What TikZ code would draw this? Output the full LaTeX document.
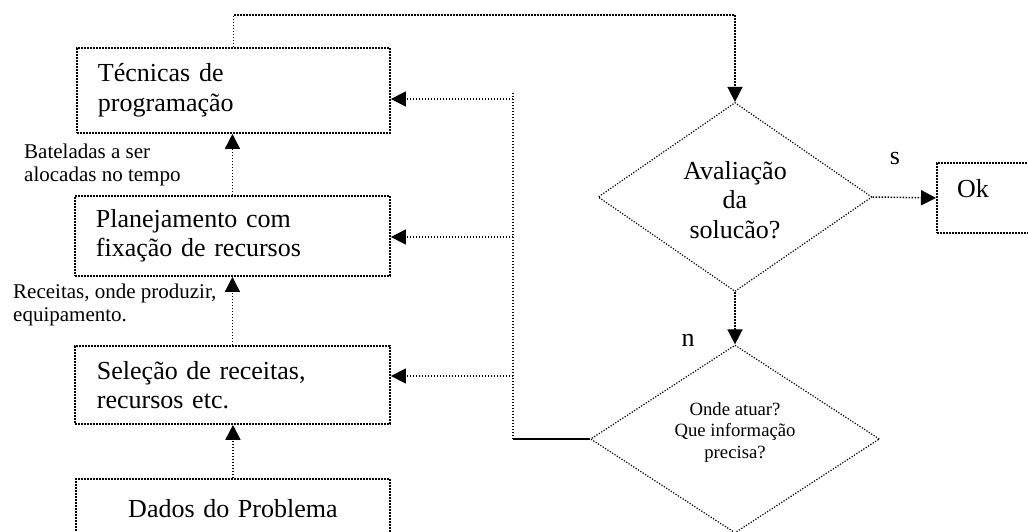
\documentclass[tikz,border=0pt]{standalone}
\usepackage{fontspec}
\setmainfont{Liberation Serif}
\usetikzlibrary{arrows.meta,shapes.geometric}
\begin{document}
\begin{tikzpicture}[x=1pt,y=-1pt,
  dotline/.style={line width=1.5pt, dash pattern=on 1.4pt off 1.6pt},
  tip/.style={-{Triangle[length=15pt,width=15pt]}},
  stepbox/.style={draw, rectangle, line width=1.9pt, dash pattern=on 1.6pt off 1.4pt,
    anchor=north west, inner ysep=0pt, font=\fontsize{26}{29.5}\selectfont},
  decision/.style={diamond, draw, line width=1.2pt, dash pattern=on 1.2pt off 1.6pt, inner sep=0pt},
  bigtext/.style={font=\fontsize{26}{29.5}\selectfont, align=center, inner sep=0pt},
  smalltext/.style={font=\fontsize{18.7}{21.5}\selectfont, align=center, inner sep=0pt},
  lbl/.style={font=\fontsize{21}{23.5}\selectfont, align=left, inner sep=0pt, anchor=west}
]
\useasboundingbox (0,0) rectangle (1028,532);
\clip (0,0) rectangle (1028,532);

% process steps on the left
\node[stepbox, inner xsep=21pt, text width=271pt, align=left, minimum height=85] (b1) at (76,47)
  {Técnicas de\\programação};
\node[stepbox, inner xsep=21pt, text width=273pt, align=left, minimum height=80] (b2) at (74,195)
  {Planejamento com\\fixação de recursos};
\node[stepbox, inner xsep=22pt, text width=271pt, align=left, minimum height=78] (b3) at (74,345)
  {Seleção de receitas,\\recursos etc.};
\node[stepbox, inner xsep=0pt, text width=314pt, align=center, minimum height=60] (b4) at (75,478)
  {Dados do Problema};

% decisions and result
\node[decision, minimum width=274, minimum height=189] (d1) at (735,197) {};
\node[bigtext] (d1t) at (735,200) {Avaliação\\da\\solucão?};
\node[decision, minimum width=289, minimum height=188] (d2) at (735,439) {};
\node[smalltext] (d2t) at (735,432) {Onde atuar?\\Que informação\\precisa?};
\node[stepbox, minimum width=100, minimum height=70] (ok) at (936,162) {};
\node[bigtext, anchor=west] (okt) at ([xshift=21pt,yshift=9pt]ok.west) {Ok};

% branch labels
\node[bigtext] (ls) at (895,159) {s};
\node[bigtext] (ln) at (688,340) {n};

% flow labels
\node[lbl] (l1) at (24,165) {Bateladas a ser\\alocadas no tempo};
\node[lbl] (l2) at (13,305) {Receitas, onde produzir,\\equipamento.};

% upward flow between steps
\draw[dotline,tip] (b4.north) -- (b4.north |- b3.south);
\draw[dotline,tip] (b3.north) -- (b3.north |- b2.south);
\draw[dotline,tip] (b2.north) -- (b2.north |- b1.south);

% to the evaluation
\draw[dotline,tip] (b1.north) -- ++(0,-32) -| (d1.north);
\draw[dotline,tip] (d1.east) -- (ok.west);
\draw[dotline,tip] (d1.south) -- (d2.north);

% feedback from the second decision
\coordinate (jt) at (513,92);
\coordinate (jb) at (513,440);
\coordinate (j1) at (513,99);
\coordinate (j2) at (513,237);
\coordinate (j3) at (513,376);
\draw[line width=1.8pt] (d2.west) -- (d2.west -| jb);
\draw[dotline] (d2.west -| jb) -- (jt);
\draw[dotline,tip] (j1) -- (j1 -| b1.east);
\draw[dotline,tip] (j2) -- (j2 -| b2.east);
\draw[dotline,tip] (j3) -- (j3 -| b3.east);
\end{tikzpicture}
\end{document}
